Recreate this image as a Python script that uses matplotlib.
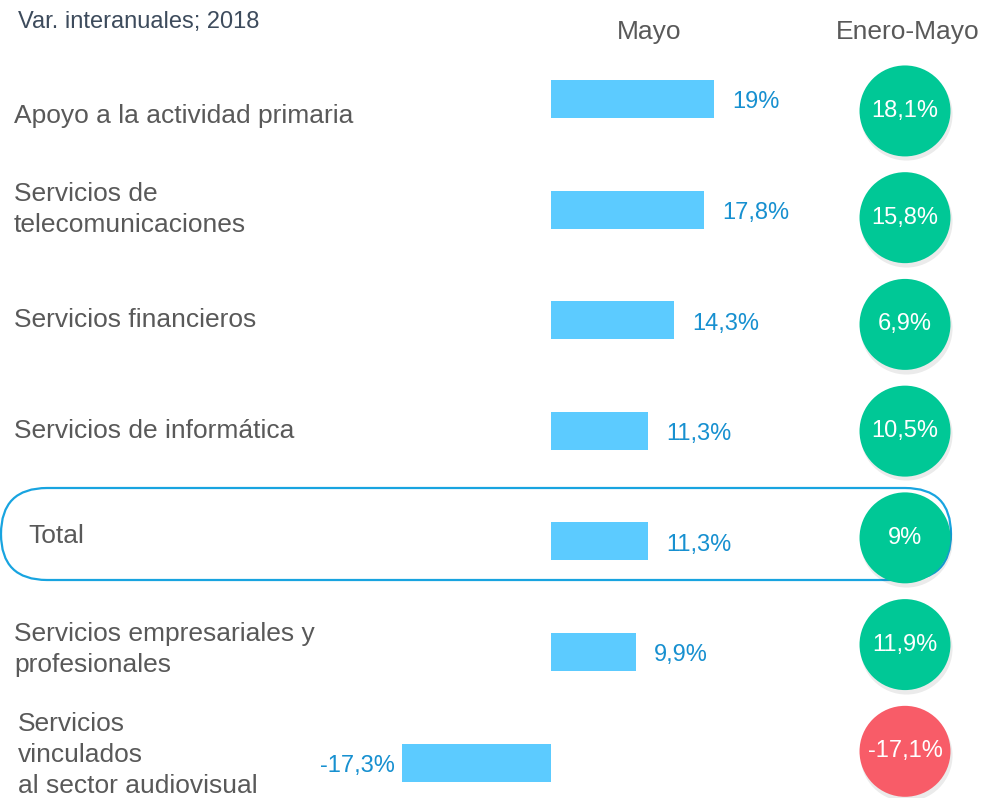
import matplotlib.pyplot as plt
from matplotlib.patches import FancyBboxPatch
from matplotlib.transforms import blended_transform_factory

plt.rcParams['font.family'] = ['Liberation Sans', 'DejaVu Sans']

# data
categories = [
    "Apoyo a la actividad primaria",
    "Servicios de\ntelecomunicaciones",
    "Servicios financieros",
    "Servicios de informática",
    "Total",
    "Servicios empresariales y\nprofesionales",
    "Servicios\nvinculados\nal sector audiovisual",
]
mayo = [19, 17.8, 14.3, 11.3, 11.3, 9.9, -17.3]
enero_mayo = [18.1, 15.8, 6.9, 10.5, 9, 11.9, -17.1]

title = "Var. interanuales; 2018"
col_headers = ["Mayo", "Enero-Mayo"]

bar_color = "#5CCBFF"
value_color = "#1790D0"
label_color = "#595959"
green = "#00C896"
red = "#F85C68"


def fmt(v):
    return f"{v:g}".replace(".", ",") + "%"


fig = plt.figure(figsize=(9.81, 7.98), dpi=100)

# pixel overlay for the highlight box around "Total"
bg = fig.add_axes([0, 0, 1, 1])
bg.set_xlim(0, 981)
bg.set_ylim(798, 0)
bg.axis("off")
bg.add_patch(FancyBboxPatch((1, 488), 950, 92, boxstyle="round,pad=0,rounding_size=46",
                            facecolor="none", edgecolor="#18A4E0", lw=1.6))

ax = fig.add_axes([0, 0, 1, 1])
ax.patch.set_visible(False)
ax.axis("off")
px = 8.6  # pixels per percentage point
ax.set_xlim(-551 / px, 430 / px)
ax.set_ylim(6.32, -0.895)

rows = list(range(len(categories)))
ax.barh(rows, mayo, height=0.345, color=bar_color, zorder=2)

# value labels next to the bars
for i, v in zip(rows, mayo):
    if v >= 0:
        ax.text(v + 2.1, i + 0.03, fmt(v), ha="left", va="center", fontsize=17, color=value_color)
    else:
        ax.text(v - 0.8, i + 0.03, fmt(v), ha="right", va="center", fontsize=17, color=value_color)

# category labels
tr = blended_transform_factory(ax.transAxes, ax.transData)
label_dy = [0.15, 0, 0, 0, -0.05, -0.02, -0.07]
label_x = [14, 14, 14, 14, 28, 14, 18]
for i, (c, dy, lx) in enumerate(zip(categories, label_dy, label_x)):
    ax.text(lx / 981, i + dy, c, transform=tr, ha="left", va="center",
            fontsize=19, color=label_color, linespacing=1.38)

# circles for Enero-Mayo
circ_x = 354 / px
circ_y = [0.108 + 0.965 * i for i in rows]
colors = [green if v >= 0 else red for v in enero_mayo]
ax.scatter([circ_x + 0.1] * len(rows), [y + 0.03 for y in circ_y], s=4400, color="#000000",
           alpha=0.08, linewidths=0, zorder=3)
ax.scatter([circ_x] * len(rows), circ_y, s=4290, color=colors, linewidths=0, zorder=4)
for y, v in zip(circ_y, enero_mayo):
    ax.text(circ_x, y, fmt(v), ha="center", va="center", fontsize=17, color="white", zorder=5)

# headers
fig.text(18 / 981, 1 - 22 / 798, title, ha="left", va="center", fontsize=17, color="#3D4B5C")
fig.text(649 / 981, 1 - 32 / 798, col_headers[0], ha="center", va="center", fontsize=19, color=label_color)
fig.text(908 / 981, 1 - 32 / 798, col_headers[1], ha="center", va="center", fontsize=19, color=label_color)

fig.savefig("out.png", dpi=100)
